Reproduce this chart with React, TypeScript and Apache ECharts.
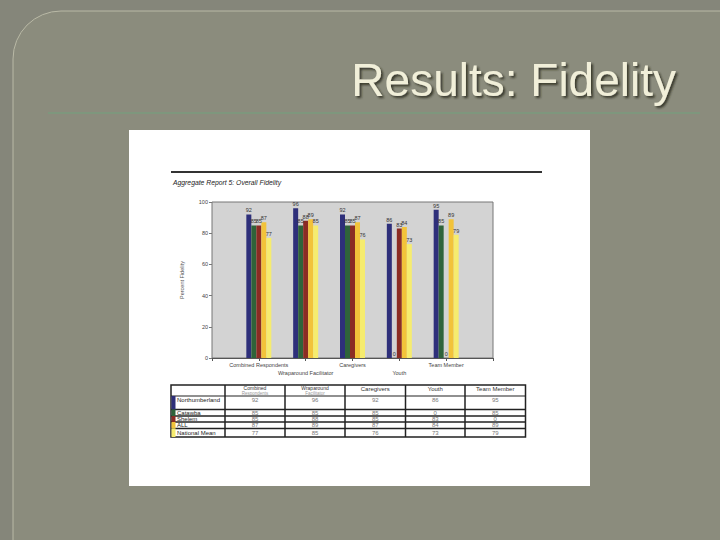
import React, { useEffect, useRef } from "react";
import * as echarts from "echarts";

const categories = ["Combined Respondents", "Wraparound Facilitator", "Caregivers", "Youth", "Team Member"];
const headerLines = [["Combined", "Respondents"], ["Wraparound", "Facilitator"], ["Caregivers"], ["Youth"], ["Team Member"]];
const seriesNames = ["Northumberland", "Catawba", "Shelem", "ALL", "National Mean"];
const northumberland = [92, 96, 92, 86, 95];
const catawba = [85, 85, 85, 0, 85];
const shelem = [85, 88, 85, 83, 0];
const allSites = [87, 89, 87, 84, 89];
const nationalMean = [77, 85, 76, 73, 79];
const yTicks = [0, 20, 40, 60, 80, 100];
const colors = ["#2e2f7a", "#2f633a", "#8b2c24", "#f2c33a", "#f6ec6e"];

const seriesValues = [northumberland, catawba, shelem, allSites, nationalMean];

export default function App() {
  const ref = useRef<HTMLDivElement>(null);
  useEffect(() => {
    if (!ref.current) return;
    document.body.style.margin = "0";
    const chart = echarts.init(ref.current, null, { renderer: "svg" });
    const font = "Liberation Sans, Arial, sans-serif";

    const colX = [171, 225, 285, 345, 405.5, 465, 525.5];
    const rowY = [385, 396, 409.5, 416, 422, 428.5, 437];
    const table: any[] = [];
    table.push({ type: "rect", shape: { x: colX[0], y: rowY[0], width: colX[6] - colX[0], height: rowY[6] - rowY[0] }, style: { fill: "#fff", stroke: "#222", lineWidth: 1.5 } });
    for (let i = 1; i < 6; i++) {
      table.push({ type: "line", shape: { x1: colX[i], y1: rowY[0], x2: colX[i], y2: rowY[6] }, style: { stroke: "#222", lineWidth: 1.5 } });
    }
    for (let j = 1; j < 6; j++) {
      table.push({ type: "line", shape: { x1: colX[0], y1: rowY[j], x2: colX[6], y2: rowY[j] }, style: { stroke: "#222", lineWidth: j === 1 ? 1.2 : 1.5 } });
    }
    headerLines.forEach((parts, i) => {
      const cx = (colX[i + 1] + colX[i + 2]) / 2;
      if (parts.length === 1) {
        table.push({ type: "text", x: cx, y: 389, style: { text: parts[0], font: `6px ${font}`, fill: "#333", align: "center", verticalAlign: "middle" } });
      } else {
        table.push({ type: "text", x: cx, y: 388, style: { text: parts[0], font: `5px ${font}`, fill: "#333", align: "center", verticalAlign: "middle" } });
        table.push({ type: "text", x: cx, y: 393.2, style: { text: parts[1], font: `4.5px ${font}`, fill: "#999", align: "center", verticalAlign: "middle" } });
      }
    });
    seriesNames.forEach((n, r) => {
      const y0 = rowY[r + 1];
      const y1 = rowY[r + 2];
      const cy = r === 0 ? y0 + 4 : (y0 + y1) / 2;
      table.push({ type: "rect", shape: { x: colX[0] + 0.5, y: y0, width: 4, height: y1 - y0 }, style: { fill: colors[r] } });
      table.push({ type: "text", x: colX[0] + 6, y: cy, style: { text: n, font: `6px ${font}`, fill: "#222", align: "left", verticalAlign: "middle" } });
      seriesValues[r].forEach((v, i) => {
        const cx = (colX[i + 1] + colX[i + 2]) / 2;
        table.push({ type: "text", x: cx, y: cy, style: { text: String(v), font: `6px ${font}`, fill: "#777", align: "center", verticalAlign: "middle" } });
      });
    });

    const axisCats = ["", ...categories, ""];

    chart.setOption({
      animation: false,
      backgroundColor: "#85867a",
      graphic: [
        { type: "rect", z: -10, shape: { x: 13, y: 11, width: 780, height: 600, r: 48 }, style: { fill: "#8b8c7d", stroke: "#b9b9a6", lineWidth: 1 } },
        { type: "line", z: -9, shape: { x1: 48, y1: 113, x2: 700, y2: 113 }, style: { stroke: "#7e977d", lineWidth: 2 } },
        { type: "text", z: -9, x: 676, y: 80, style: { text: "Results: Fidelity", font: `46px ${font}`, fill: "#f1efd9", align: "right", verticalAlign: "middle", textShadowColor: "rgba(40,40,30,0.8)", textShadowOffsetX: 2, textShadowOffsetY: 2, textShadowBlur: 2 } },
        { type: "rect", z: -8, shape: { x: 129, y: 130, width: 461, height: 356 }, style: { fill: "#ffffff" } },
        { type: "line", z: -7, shape: { x1: 171, y1: 172, x2: 542, y2: 172 }, style: { stroke: "#333", lineWidth: 2 } },
        { type: "text", z: -7, x: 173, y: 182, style: { text: "Aggregate Report 5: Overall Fidelity", font: `italic 6.8px ${font}`, fill: "#222", align: "left", verticalAlign: "middle" } },
        ...table,
      ],
      grid: { left: 212, top: 202, width: 281, height: 156, show: true, backgroundColor: "#d3d3d3", borderColor: "#777", borderWidth: 1, containLabel: false },
      xAxis: {
        type: "category",
        data: axisCats,
        boundaryGap: false,
        axisLine: { show: true, lineStyle: { color: "#555", width: 1 } },
        axisTick: { show: true, length: 3, lineStyle: { color: "#555" } },
        axisLabel: {
          interval: 0,
          hideOverlap: false,
          fontSize: 5.5,
          lineHeight: 8,
          margin: 3,
          color: "#444",
          fontFamily: font,
          formatter: (v: string, i: number) => (i % 2 === 0 && v ? "\n" + v : v),
        },
        splitLine: { show: false },
      },
      yAxis: {
        type: "value",
        min: yTicks[0],
        max: yTicks[yTicks.length - 1],
        interval: 20,
        name: "Percent Fidelity",
        nameLocation: "middle",
        nameGap: 27,
        nameTextStyle: { fontSize: 5.5, color: "#555", fontFamily: font },
        axisLine: { show: false },
        axisTick: { show: true, length: 3, lineStyle: { color: "#777" } },
        axisLabel: { fontSize: 5.5, color: "#444", margin: 4, fontFamily: font },
        splitLine: { show: false },
      },
      series: seriesNames.map((n, s) => ({
        name: n,
        type: "bar",
        barWidth: 5,
        barGap: "0%",
        data: ["-", ...seriesValues[s], "-"],
        itemStyle: { color: colors[s] },
        label: { show: true, position: "top", distance: 1, fontSize: 5.5, color: "#333", fontFamily: font },
      })),
    });
    return () => chart.dispose();
  }, []);
  return <div ref={ref} style={{ position: "fixed", left: 0, top: 0, width: 720, height: 540 }} />;
}
